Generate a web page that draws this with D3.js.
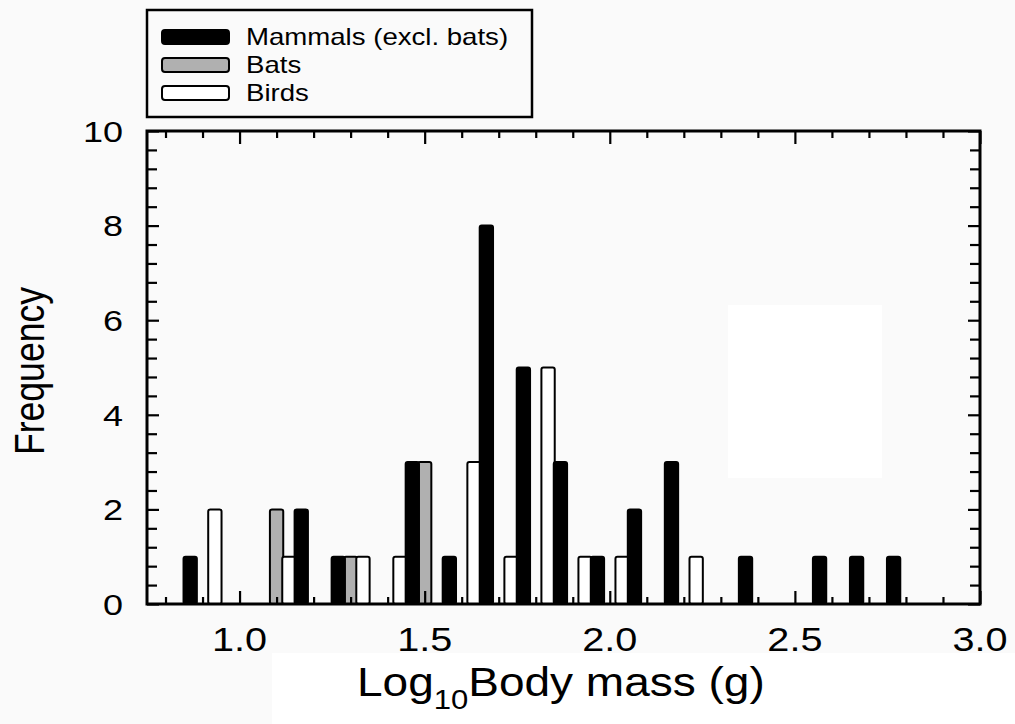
<!DOCTYPE html>
<html><head><meta charset="utf-8">
<script src="https://cdn.jsdelivr.net/npm/d3@7"></script>
<style>html,body{margin:0;padding:0;background:#fafafa;}svg{display:block;}</style>
</head><body>
<svg id="chart" width="1015" height="724"></svg>
<script>
// ---- data ----
const binStarts = [0.8,0.9,1.0,1.1,1.2,1.3,1.4,1.5,1.6,1.7,1.8,1.9,2.0,2.1,2.2,2.3,2.4,2.5,2.6,2.7];
const mammals   = [1,0,0,2,1,0,3,1,8,5,3,1,2,3,0,1,0,1,1,1];
const bats      = [0,0,0,2,0,1,0,3,0,0,0,0,0,0,0,0,0,0,0,0];
const birds     = [0,2,0,1,0,1,1,0,3,1,5,1,1,0,1,0,0,0,0,0];
const seriesNames = ["Mammals (excl. bats)", "Bats", "Birds"];
const xTickLabels = [1.0, 1.5, 2.0, 2.5, 3.0];
const yTickLabels = [0, 2, 4, 6, 8, 10];
const xAxisTitleMain = "Log", xAxisTitleSub = "10", xAxisTitleRest = "Body mass (g)";
const yAxisTitle = "Frequency";

// ---- layout ----
const svg = d3.select("#chart");
const L = 147, R = 980, T = 131, B = 604;
const x = d3.scaleLinear().domain([0.75, 3.0]).range([L, R]);
const y = d3.scaleLinear().domain([0, 10]).range([B, T]);
const SX = 1.2; // horizontal text stretch
const font = "'Liberation Sans', Arial, sans-serif";

// background artifacts (whiter patches)
svg.append("rect").attr("x",728).attr("y",305).attr("width",154).attr("height",173).attr("fill","#ffffff");
svg.append("rect").attr("x",272).attr("y",653).attr("width",743).attr("height",71).attr("fill","#ffffff");

// ---- bars ----
const barW = 0.036;
const series = [
  {name:"Bats", vals:bats, fill:"#b0b0b0", off:0},
  {name:"Birds", vals:birds, fill:"#ffffff", off:1/30},
  {name:"Mammals", vals:mammals, fill:"#000000", off:2/30}
];
series.forEach(s => {
  const d = binStarts.map((b,i)=>({c:b+s.off, v:s.vals[i]})).filter(e=>e.v>0);
  svg.append("g").selectAll("rect").data(d).join("rect")
    .attr("x", e => x(e.c - barW/2))
    .attr("width", e => x(e.c + barW/2) - x(e.c - barW/2))
    .attr("y", e => y(e.v))
    .attr("height", e => y(0) - y(e.v))
    .attr("rx", 2).attr("ry", 2)
    .attr("fill", s.fill).attr("stroke", "#000").attr("stroke-width", 2);
});

// ---- axes ticks (inward) ----
const minorX = d3.range(8, 30).map(v => v/10).filter(v => !xTickLabels.some(m => Math.abs(m-v)<1e-9));
const minorY = d3.range(0, 26).map(v => v*0.4).filter(v => v>0 && v<10 && !yTickLabels.some(m => Math.abs(m-v)<1e-9));
function styleAxis(g){ g.select(".domain").remove(); g.selectAll("line").attr("stroke","#000").attr("stroke-width",2.2); g.selectAll("text").remove(); }
svg.append("g").attr("transform",`translate(0,${B})`).call(d3.axisBottom(x).tickValues(minorX).tickSize(-7)).call(styleAxis);
svg.append("g").attr("transform",`translate(0,${B})`).call(d3.axisBottom(x).tickValues(xTickLabels).tickSize(-13)).call(styleAxis);
svg.append("g").attr("transform",`translate(0,${T})`).call(d3.axisTop(x).tickValues(minorX).tickSize(-7)).call(styleAxis);
svg.append("g").attr("transform",`translate(0,${T})`).call(d3.axisTop(x).tickValues(xTickLabels).tickSize(-13)).call(styleAxis);
svg.append("g").attr("transform",`translate(${L},0)`).call(d3.axisLeft(y).tickValues(minorY).tickSize(-10)).call(styleAxis);
svg.append("g").attr("transform",`translate(${L},0)`).call(d3.axisLeft(y).tickValues(yTickLabels).tickSize(-12)).call(styleAxis);
svg.append("g").attr("transform",`translate(${R},0)`).call(d3.axisRight(y).tickValues(minorY).tickSize(-10)).call(styleAxis);
svg.append("g").attr("transform",`translate(${R},0)`).call(d3.axisRight(y).tickValues(yTickLabels).tickSize(-12)).call(styleAxis);

// frame
svg.append("rect").attr("x",L).attr("y",T).attr("width",R-L).attr("height",B-T)
  .attr("fill","none").attr("stroke","#000").attr("stroke-width",3);

// ---- tick labels ----
svg.append("g").selectAll("text").data(xTickLabels).join("text")
  .attr("transform", d => `translate(${x(d)},651) scale(${SX},1)`)
  .attr("text-anchor","middle").attr("font-family",font).attr("font-size",33).attr("fill","#000")
  .text(d => d3.format(".1f")(d));
svg.append("g").selectAll("text").data(yTickLabels).join("text")
  .attr("transform", d => `translate(123,${y(d)}) scale(${SX},1)`)
  .attr("dy","0.36em")
  .attr("text-anchor","end").attr("font-family",font).attr("font-size",30).attr("fill","#000")
  .text(d => d);

// ---- axis titles ----
svg.append("text")
  .attr("transform", `translate(44,371) rotate(-90) scale(1,${SX})`)
  .attr("text-anchor","middle").attr("font-family",font).attr("font-size",35.6).attr("fill","#000")
  .text(yAxisTitle);
const xt = svg.append("text").attr("transform","translate(357,696) scale(1.15,1)")
  .attr("font-family",font).attr("font-size",40).attr("fill","#000");
xt.append("tspan").text(xAxisTitleMain);
xt.append("tspan").attr("font-size",27).attr("dy",13).text(xAxisTitleSub);
xt.append("tspan").attr("dy",-13).text(xAxisTitleRest);

// ---- legend ----
svg.append("rect").attr("x",147).attr("y",10).attr("width",385).attr("height",107)
  .attr("fill","none").attr("stroke","#000").attr("stroke-width",2.5);
const legFills = ["#000000", "#b0b0b0", "#ffffff"];
const legY = d3.scalePoint().domain(seriesNames).range([37, 93]);
const lg = svg.append("g");
lg.selectAll("rect").data(seriesNames).join("rect")
  .attr("x",162).attr("y", d => legY(d)-7).attr("width",67).attr("height",14)
  .attr("rx",3).attr("ry",3)
  .attr("fill",(d,i)=>legFills[i]).attr("stroke","#000").attr("stroke-width",2);
lg.selectAll("text").data(seriesNames).join("text")
  .attr("transform", d => `translate(246,${legY(d)+8}) scale(${SX},1)`)
  .attr("font-family",font).attr("font-size",23).attr("fill","#000")
  .text(d => d);
</script>
</body></html>
